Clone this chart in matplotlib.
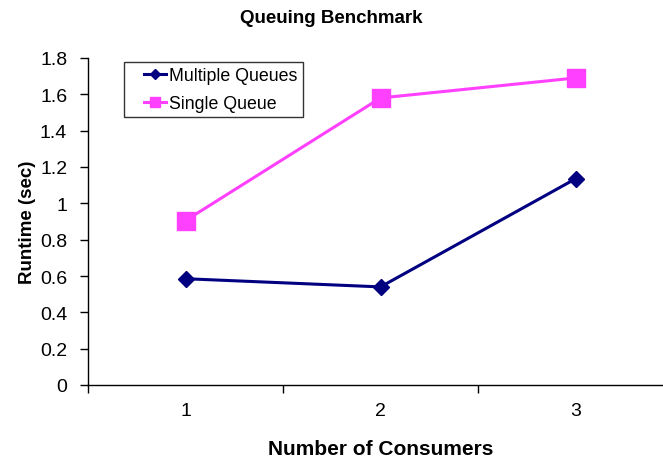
import matplotlib
matplotlib.use("Agg")
import matplotlib.pyplot as plt
from matplotlib.legend_handler import HandlerLine2D

plt.rcParams['font.family'] = ['Liberation Sans', 'DejaVu Sans']

# data
consumers = [1, 2, 3]
multiple_queues = [0.585, 0.54, 1.135]
single_queue = [0.905, 1.58, 1.69]
y_ticks = [0, 0.2, 0.4, 0.6, 0.8, 1, 1.2, 1.4, 1.6, 1.8]
y_tick_labels = ['0', '0.2', '0.4', '0.6', '0.8', '1', '1.2', '1.4', '1.6', '1.8']

fig = plt.figure(figsize=(6.63, 4.60), dpi=100)
# plot area runs past the right edge of the image, like the original
ax = fig.add_axes([88 / 663, 74 / 460, 585 / 663, 327 / 460])

ax.plot(consumers, multiple_queues, color='#000080', lw=2.2, marker='D',
        ms=8.5, label='Multiple Queues', clip_on=False)
ax.plot(consumers, single_queue, color='#ff40ff', lw=2.2, marker='s',
        ms=12.5, label='Single Queue', clip_on=False)

ax.set_xlim(0.5, 3.5)
ax.set_ylim(0, 1.8)
ax.set_yticks(y_ticks)
ax.set_yticklabels(y_tick_labels)

# ticks sit between categories, labels at the categories
ax.set_xticks([0.5, 1.5, 2.5, 3.5])
ax.set_xticklabels([])
ax.set_xticks(consumers, minor=True)
ax.set_xticklabels([str(c) for c in consumers], minor=True)
ax.tick_params(axis='x', which='minor', length=0, pad=12, labelsize=14)
ax.tick_params(axis='x', which='major', direction='out', length=6, width=1)
ax.tick_params(axis='y', direction='out', length=6, width=1, labelsize=14, pad=9)

for s in ['top', 'right']:
    ax.spines[s].set_visible(False)
ax.spines['left'].set_linewidth(1)
ax.spines['bottom'].set_linewidth(1)

# title is centred on the whole chart, not on the plot area
fig.text(0.5, 1 - 23 / 460, 'Queuing Benchmark', fontsize=13.5,
         fontweight='bold', ha='center', va='baseline')
ax.set_xlabel('Number of Consumers', fontsize=15, fontweight='bold', labelpad=15)
ax.set_ylabel('Runtime (sec)', fontsize=13.5, fontweight='bold', labelpad=3)

hm = {line: HandlerLine2D(xpad=0.82) for line in ax.get_lines()}
leg = ax.legend(loc='upper left', bbox_to_anchor=(36 / 585, 1 - 4 / 327),
                fontsize=12.75, frameon=True, fancybox=False, markerscale=0.6,
                handlelength=2.07, handletextpad=0.17, borderpad=0.3,
                labelspacing=0.6, borderaxespad=0, handler_map=hm)
leg.get_frame().set_edgecolor('black')
leg.get_frame().set_linewidth(1)

fig.savefig('out.png', dpi=100)
